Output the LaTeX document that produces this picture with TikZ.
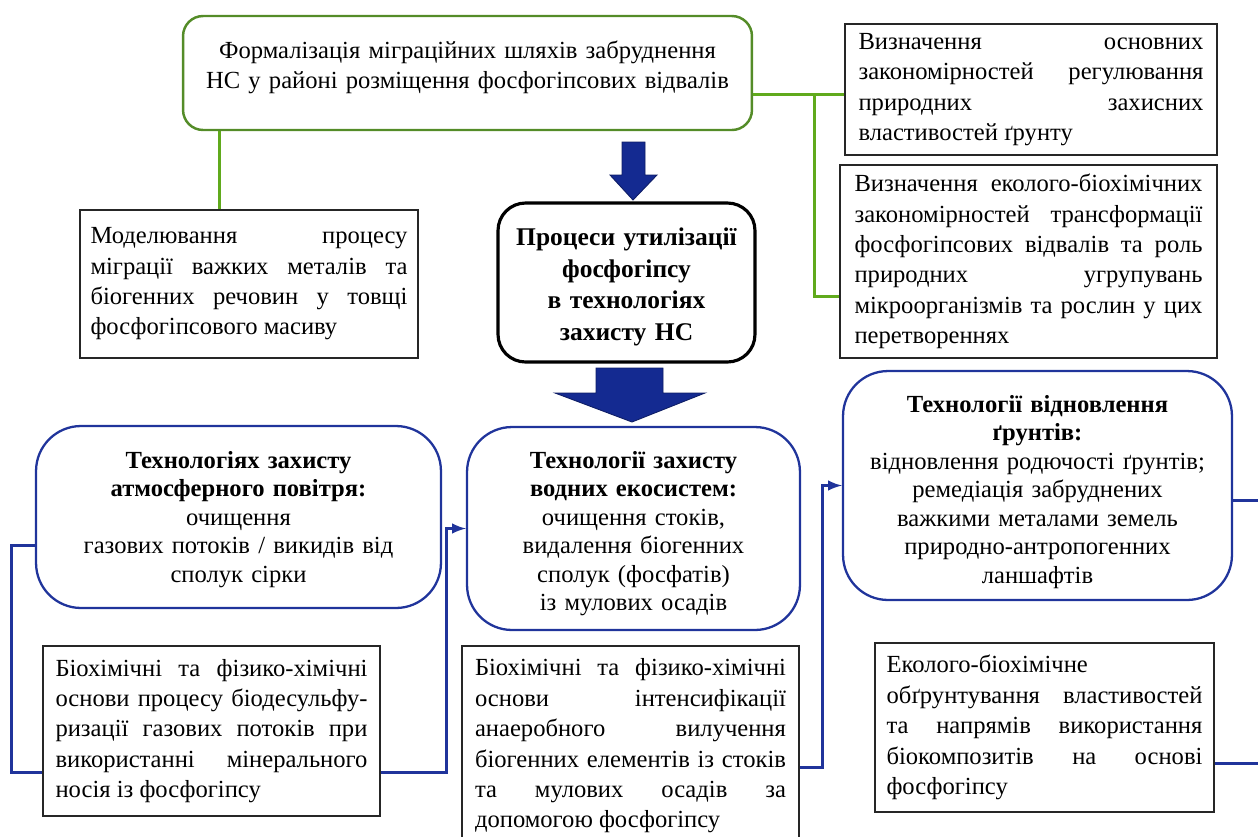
\documentclass[tikz,border=0pt]{standalone}
\usepackage{fontspec}
\setmainfont{Liberation Serif}
\usepackage{xcolor}
\usepackage{tikz}
\usetikzlibrary{arrows,calc}
\hyphenpenalty=10000
\exhyphenpenalty=10000

\definecolor{frmgreen}{RGB}{84,140,40}
\definecolor{lingreen}{RGB}{96,170,28}
\definecolor{tekblue}{RGB}{32,52,155}
\definecolor{arrblue}{RGB}{20,42,145}

\begin{document}
\begin{tikzpicture}[x=0.02cm,y=-0.02cm,>=latex,
  greenbox/.style={draw=frmgreen,line width=1.4pt,rounded corners=0.4cm,align=center,
    text width=11cm,minimum width=11.38cm,minimum height=2.28cm,
    font=\fontsize{14}{17}\selectfont},
  plainbox/.style={draw=black!85,line width=0.7pt,align=justify,inner xsep=6pt,
    font=\fontsize{14}{17.3}\selectfont},
  procbox/.style={draw=black,line width=1.8pt,rounded corners=0.55cm,align=center,
    text width=4.8cm,minimum width=5.14cm,minimum height=3.18cm,
    font=\fontsize{14.5}{18}\selectfont\bfseries},
  tekbox/.style={draw=tekblue,line width=1.3pt,rounded corners=0.9cm,align=center,
    font=\fontsize{14}{16.2}\selectfont},
  greenline/.style={draw=lingreen,line width=1.7pt},
  blueline/.style={draw=tekblue,line width=1.7pt},
  bigarrow/.style={fill=arrblue,draw=arrblue!70!black,line width=0.5pt}]
\useasboundingbox (0,0) rectangle (1258,836);
\clip (0,0) rectangle (1258,836);

% top row
\node[greenbox,text depth=26pt] (form) at (467.5,73)
  {Формалізація міграційних шляхів забруднення\\ НС у районі розміщення фосфогіпсових відвалів};
\node[plainbox,text width=6.34cm,minimum width=6.76cm,minimum height=2.96cm] (model) at (249,284)
  {Моделювання процесу\linebreak міграції важких металів та\linebreak біогенних речовин у товщі\linebreak фосфогіпсового масиву};
\node[plainbox,text width=6.9cm,minimum width=7.44cm,minimum height=2.62cm] (def1) at (1031,89.5)
  {Визначення основних\linebreak закономірностей регулювання\linebreak природних захисних\linebreak властивостей ґрунту};
\node[plainbox,text width=6.96cm,minimum width=7.54cm,minimum height=3.86cm] (def2) at (1028.5,261.5)
  {Визначення еколого-біохімічних\linebreak закономірностей трансформації\linebreak фосфогіпсових відвалів та роль\linebreak природних угрупувань\linebreak мікроорганізмів та рослин у цих\linebreak перетвореннях};
\node[procbox,text depth=52pt] (proc) at (626.5,282.5)
  {Процеси утилізації\\ фосфогіпсу\\ в технологіях\\ захисту НС};

% technologies
\node[tekbox,text width=7.6cm,minimum width=8.1cm,minimum height=3.64cm,text depth=65pt] (air) at (238.5,517)
  {\textbf{Технологіях захисту}\\ \textbf{атмосферного повітря:}\\ очищення\\ газових потоків / викидів від\\ сполук сірки};
\node[tekbox,text width=6.2cm,minimum width=6.66cm,minimum height=4.06cm,text depth=78pt] (water) at (633.5,528.5)
  {\textbf{Технології захисту}\\ \textbf{водних екосистем:}\\ очищення стоків,\\ видалення біогенних\\ сполук (фосфатів)\\ із мулових осадів};
\node[tekbox,text width=7.3cm,minimum width=7.78cm,minimum height=4.58cm,text depth=93pt] (soil) at (1037.5,485.5)
  {\textbf{Технології відновлення}\\ \textbf{ґрунтів:}\\ відновлення родючості ґрунтів;\\ ремедіація забруднених\\ важкими металами земель\\ природно-антропогенних\\ ланшафтів};

% bottom row
\node[plainbox,text width=6.24cm,minimum width=6.74cm,minimum height=3.4cm] (bioair) at (211.5,731)
  {Біохімічні та фізико-хімічні\linebreak основи процесу біодесульфу-\linebreak ризації газових потоків при\linebreak використанні мінерального\linebreak носія із фосфогіпсу};
\node[plainbox,text width=6.22cm,minimum width=6.74cm,minimum height=4cm] (biowater) at (630.5,746)
  {Біохімічні та фізико-хімічні\linebreak основи інтенсифікації\linebreak анаеробного вилучення\linebreak біогенних елементів із стоків\linebreak та мулових осадів за\linebreak допомогою фосфогіпсу};
\node[plainbox,text width=6.32cm,minimum width=6.78cm,minimum height=3.38cm] (eco) at (1044.5,727.5)
  {Еколого-біохімічне\newline обґрунтування властивостей\linebreak та напрямів використання\linebreak біокомпозитів на основі\linebreak фосфогіпсу};

% block arrows
\draw[bigarrow] (622,142) -- (645,142) -- (645,175) -- (657,175) -- (633,200)
  -- (610,175) -- (622,175) -- cycle;
\draw[bigarrow] (596,368) -- (663,368) -- (663,393) -- (705,393) -- (632,422)
  -- (555,393) -- (596,393) -- cycle;

% green links
\draw[greenline] ($(form.south west)+(38,0)$) coordinate (g1) -- (g1 |- model.north);
\draw[greenline] ($(form.north east)+(0,80)$) coordinate (g2) -- (g2 -| def1.west);
\draw[greenline] ($(g2 -| def2.west)+(-25,0)$) |- ($(def2.west)+(0,35)$);

% blue links
\draw[blueline] ($(air.west)+(0,28)$) -| ($(bioair.west)+(-31,41)$) -- ($(bioair.west)+(0,41)$);
\draw[blueline,->] ($(bioair.east)+(0,41)$) -- ++(66,0) |- (water.west);
\draw[blueline,->] ($(biowater.east)+(0,21)$) -- ++(23,0) |- (soil.west);
\draw[blueline] ($(soil.east)+(0,15)$) -- ++(40,0) |- ($(eco.east)+(0,36)$);
\end{tikzpicture}
\end{document}
